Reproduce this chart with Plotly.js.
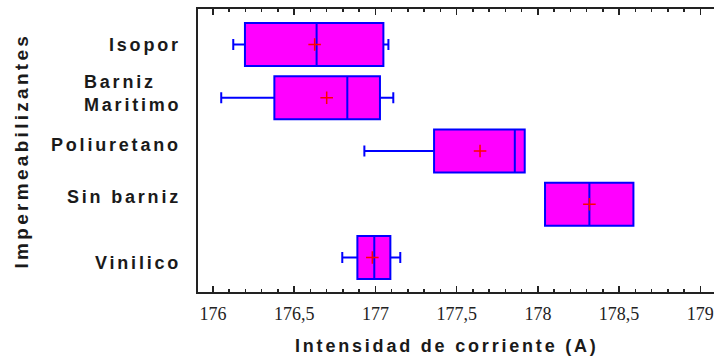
<!DOCTYPE html>
<html><head><meta charset="utf-8">
<script src="https://cdn.plot.ly/plotly-3.0.1.min.js"></script>
<style>body{margin:0;padding:0;background:#fff}#chart{width:714px;height:360px}</style>
</head><body><div id="chart"></div>
<script>
// Categories, bottom to top
var categories = ["Vinilico", "Sin barniz", "Poliuretano", "Barniz Maritimo", "Isopor"];
var categoryLabels = ["Vinilico", "Sin barniz", "Poliuretano", "Barniz<br>Maritimo", "Isopor"];
var lowerWhisker = [176.796, 178.044, 176.932, 176.051, 176.125];
var q1 = [176.889, 178.044, 177.361, 176.378, 176.197];
var median = [176.993, 178.317, 177.858, 176.827, 176.638];
var q3 = [177.092, 178.588, 177.919, 177.028, 177.049];
var upperWhisker = [177.153, 178.588, 177.919, 177.110, 177.080];
var means = [176.981, 178.317, 177.644, 176.700, 176.626];
var xTickVals = [176, 176.5, 177, 177.5, 178, 178.5, 179];
var xTitle = "Intensidad de corriente (A)";
var yTitle = "Impermeabilizantes";

// layout-only offsets of the category labels (px, up is positive)
var labelShift = [-5, 7, 6, 4, 0];

function spaced(t, px) {
  return t.split("<br>").map(function (s) {
    return '<span style="letter-spacing:' + px + 'px">' + s + '</span>';
  }).join("<br>");
}

var traces = [
  {
    type: "box", orientation: "h",
    y: categories, q1: q1, median: median, q3: q3,
    lowerfence: lowerWhisker, upperfence: upperWhisker,
    fillcolor: "#ff00ff",
    line: {color: "#0000ff", width: 2},
    width: 0.81, whiskerwidth: 0.26,
    boxpoints: false, hoverinfo: "skip", showlegend: false
  },
  {
    type: "scatter", mode: "markers",
    x: means, y: categories,
    marker: {symbol: "cross-thin", size: 9, line: {color: "#ff0000", width: 1.5}},
    hoverinfo: "skip", showlegend: false
  }
];

var labFont = {family: "Liberation Sans", size: 18, color: "#1a1a1a", weight: "bold"};
var annotations = categoryLabels.map(function (t, i) {
  return {
    text: spaced(t, 2.8), xref: "paper", yref: "y", x: -0.03, y: categories[i],
    yshift: labelShift[i],
    xanchor: "right", yanchor: "middle", align: "left", showarrow: false,
    font: labFont
  };
});
annotations.push({
  text: spaced(xTitle, 2.8), xref: "paper", yref: "paper", x: 0.482, y: -0.19,
  xanchor: "center", yanchor: "middle", showarrow: false,
  font: labFont
});
annotations.push({
  text: spaced(yTitle, 3.3), xref: "paper", yref: "paper", x: -0.343, y: 0.5, textangle: -90,
  xanchor: "center", yanchor: "middle", showarrow: false,
  font: {family: "Liberation Sans", size: 19, color: "#1a1a1a", weight: "bold"}
});

var layout = {
  width: 714, height: 360,
  margin: {l: 198, r: 0, t: 9, b: 68, pad: 0},
  paper_bgcolor: "#fff", plot_bgcolor: "#fff",
  separators: ",.",
  xaxis: {
    range: [175.908, 179.084], tickvals: xTickVals,
    ticks: "inside", ticklen: 6, tickwidth: 1.5, tickcolor: "#222",
    minor: {dtick: 0.1, ticks: "inside", ticklen: 3, tickwidth: 1.5, tickcolor: "#222"},
    showline: true, linecolor: "#222", linewidth: 2, mirror: "ticks",
    showgrid: false, zeroline: false,
    tickfont: {family: "Liberation Serif", size: 18, color: "#222"},
    ticklabelstandoff: 4
  },
  yaxis: {
    type: "category", categoryorder: "array", categoryarray: categories,
    range: [-0.648, 4.667],
    showticklabels: false, ticks: "",
    showline: true, linecolor: "#222", linewidth: 2,
    showgrid: false, zeroline: false
  },
  annotations: annotations
};

Plotly.newPlot("chart", traces, layout, {displayModeBar: false, staticPlot: true});
</script></body></html>
